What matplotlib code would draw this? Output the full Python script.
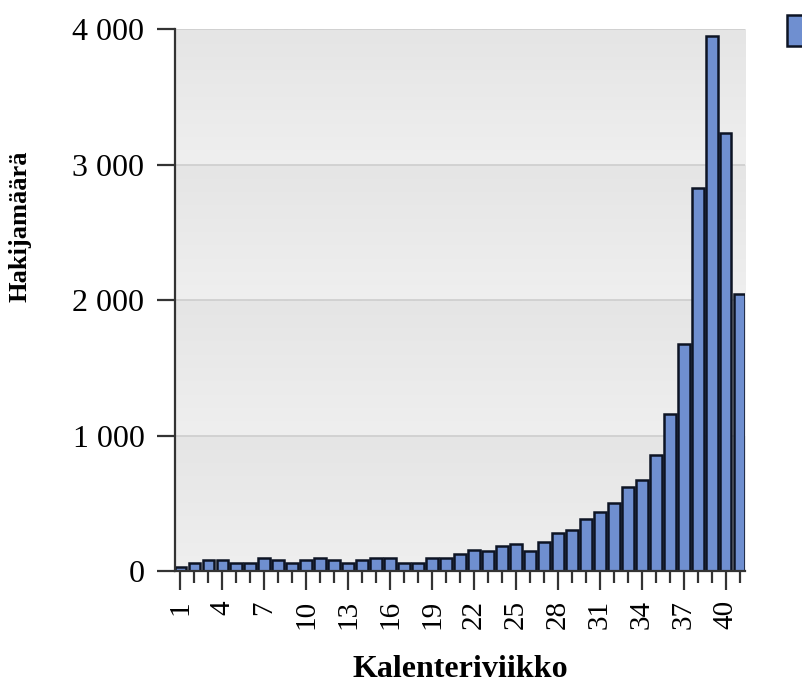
import numpy as np
import matplotlib
matplotlib.use("Agg")
import matplotlib.pyplot as plt
from matplotlib.colors import LinearSegmentedColormap
from matplotlib.ticker import FuncFormatter, MultipleLocator, FixedLocator

plt.rcParams['font.family'] = ['Liberation Serif', 'DejaVu Serif']

# weekly applicant counts, calendar weeks 1-41
weeks = np.arange(1, 42)
applicants = [30, 60, 84, 84, 60, 60, 99, 80, 60, 80,
              99, 80, 57, 80, 99, 99, 57, 57, 95, 95,
              129, 154, 150, 183, 196, 146, 215, 277, 302, 381,
              438, 500, 621, 675, 855, 1157, 1676, 2826, 3952, 3234,
              2047]
week_ticks = list(range(1, 41, 3))
y_ticks = [0, 1000, 2000, 3000, 4000]

fig = plt.figure(figsize=(8.02, 6.86), dpi=100)
ax = fig.add_axes([0.2182, 0.1676, 0.7108, 0.7901])

ax.set_xlim(0.61, 41.39)
ax.set_ylim(0, 4000)

# background: each band shades from slightly darker (top) to lighter (bottom)
grad = LinearSegmentedColormap.from_list('bg', ['#efefef', '#e5e5e5'])
ramp = np.linspace(0, 1, 64).reshape(-1, 1)
for lo, hi in zip(y_ticks[:-1], y_ticks[1:]):
    ax.imshow(ramp, cmap=grad, aspect='auto', origin='lower',
              extent=(0.61, 41.39, lo, hi), zorder=0, interpolation='bilinear')
for y in y_ticks[1:]:
    ax.axhline(y, color='#cdcdcd', lw=1.2, zorder=1)

bars = ax.bar(weeks, applicants, width=0.84, color='#6f8fd0',
              edgecolor='#0d1424', linewidth=1.8, zorder=3)

ax.xaxis.set_major_locator(FixedLocator(week_ticks))
ax.xaxis.set_minor_locator(MultipleLocator(1))
ax.yaxis.set_major_locator(FixedLocator(y_ticks))
ax.yaxis.set_major_formatter(FuncFormatter(lambda v, p: f"{int(v):,}".replace(",", " ")))

ax.tick_params(axis='x', which='major', length=14, width=1.6, color='#333333',
               labelsize=21, rotation=90, pad=7)
ax.tick_params(axis='x', which='minor', length=8.5, width=1.6, color='#333333')
ax.tick_params(axis='y', which='major', length=13, width=1.6, color='#333333',
               labelsize=23, pad=9)

for side in ['top', 'right']:
    ax.spines[side].set_visible(False)
for side in ['left', 'bottom']:
    ax.spines[side].set_color('#333333')
    ax.spines[side].set_linewidth(1.6)
    ax.spines[side].set_zorder(4)

ax.set_xlabel('Kalenteriviikko', fontsize=23, fontweight='bold')
ax.xaxis.set_label_coords(0.5, -0.155)
ax.set_ylabel('Hakijamäärä', fontsize=19, fontweight='bold')
ax.yaxis.set_label_coords(-0.251, 0.637)

leg = fig.legend([bars], [''], loc='upper left', bbox_to_anchor=(0.981, 0.978),
                 frameon=False, fontsize=25, handlelength=1.0, handleheight=1.0,
                 borderpad=0, borderaxespad=0, handletextpad=0)

fig.savefig('out.png', dpi=100)
